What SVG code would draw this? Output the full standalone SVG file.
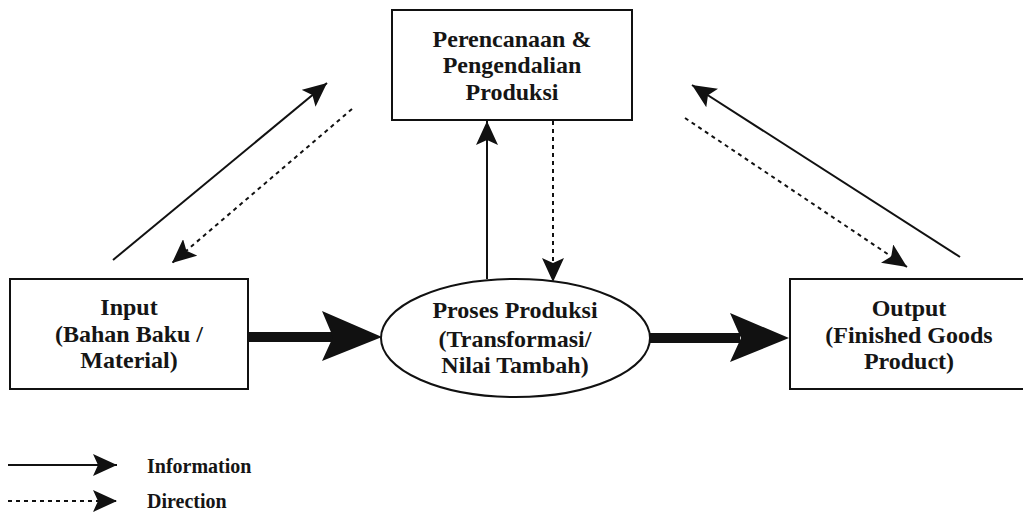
<svg xmlns="http://www.w3.org/2000/svg" width="1023" height="519" viewBox="0 0 1023 519">
<style>
.box{fill:#fff;stroke:#111;stroke-width:2}
.t{font-family:'Liberation Serif','DejaVu Serif',serif;font-weight:bold;font-size:24px;fill:#151515;text-anchor:middle}
.lg{font-family:'Liberation Serif','DejaVu Serif',serif;font-weight:bold;font-size:20px;fill:#151515}
.sol{stroke:#111;stroke-width:2;fill:none}
.dot{stroke:#111;stroke-width:2;fill:none;stroke-dasharray:4 4}
.thick{stroke:#111;stroke-width:10;fill:none}
.head{fill:#111}
</style>
<defs>
<marker id="ah" markerUnits="userSpaceOnUse" markerWidth="26" markerHeight="22" refX="24" refY="11" orient="auto">
<path d="M0,0 L24,11 L0,22 L5,11 z" fill="#111"/>
</marker>
</defs>
<rect width="1023" height="519" fill="#fff"/>
<g id="connectors">
<line class="sol" x1="113" y1="260" x2="327" y2="83" marker-end="url(#ah)"/>
<line class="dot" x1="352" y1="109" x2="172" y2="263" marker-end="url(#ah)"/>
<line class="sol" x1="960" y1="257" x2="692" y2="85" marker-end="url(#ah)"/>
<line class="dot" x1="685" y1="118" x2="907" y2="267" marker-end="url(#ah)"/>
<line class="sol" x1="487" y1="279" x2="487" y2="121" marker-end="url(#ah)"/>
<line class="dot" x1="553" y1="121" x2="553" y2="282" marker-end="url(#ah)"/>
<line class="thick" x1="248" y1="337" x2="335" y2="337"/>
<path class="head" d="M322,311 L382,337 L322,361 L333,337 z"/>
<line class="thick" x1="650" y1="338" x2="740" y2="338"/>
<path class="head" d="M730,313 L789,338 L730,362 L741,338 z"/>
</g>
<g id="planning">
<rect class="box" x="392" y="10" width="240" height="110"/>
<text class="t" x="512" y="47">Perencanaan &amp;</text>
<text class="t" x="512" y="73">Pengendalian</text>
<text class="t" x="512" y="100">Produksi</text>
</g>
<g id="input">
<rect class="box" x="10" y="279" width="238" height="110"/>
<text class="t" x="129" y="315">Input</text>
<text class="t" x="129" y="342">(Bahan Baku /</text>
<text class="t" x="129" y="368">Material)</text>
</g>
<g id="process">
<ellipse class="box" cx="515.5" cy="338" rx="134.5" ry="59"/>
<text class="t" x="515" y="318">Proses Produksi</text>
<text class="t" x="515" y="347">(Transformasi/</text>
<text class="t" x="515" y="373">Nilai Tambah)</text>
</g>
<g id="output">
<rect class="box" x="790" y="279" width="240" height="110"/>
<text class="t" x="909" y="316">Output</text>
<text class="t" x="909" y="343">(Finished Goods</text>
<text class="t" x="909" y="369">Product)</text>
</g>
<g id="legend">
<line class="sol" x1="8" y1="465" x2="117" y2="465" marker-end="url(#ah)"/>
<text class="lg" x="147" y="473">Information</text>
<line class="dot" x1="8" y1="501" x2="117" y2="501" marker-end="url(#ah)"/>
<text class="lg" x="147" y="508">Direction</text>
</g>
</svg>
